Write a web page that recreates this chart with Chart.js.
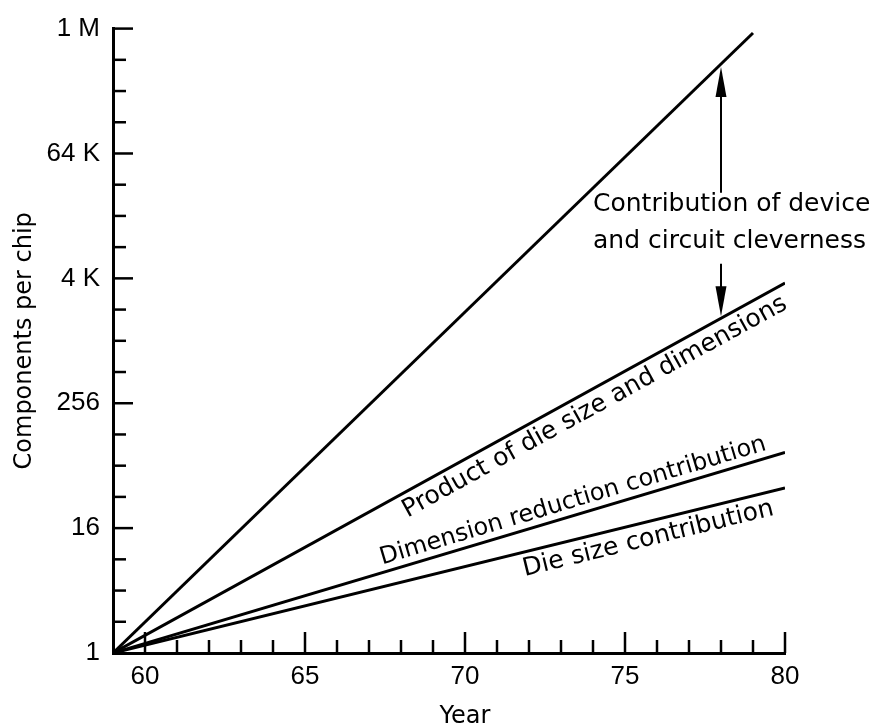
<!DOCTYPE html>
<html>
<head>
<meta charset="utf-8">
<script src="https://cdn.jsdelivr.net/npm/chart.js@4.4.0/dist/chart.umd.min.js"></script>
<style>
    html, body { margin: 0; padding: 0; background: #fff; }
</style>
</head>
<body>
<canvas id="moore_chart" width="874" height="727"></canvas>
<script>
// values (year, components per chip)
var totalYears = [59, 79];
var totalValues = [1, 950000];
var productYears = [59, 80];
var productValues = [1, 3700];
var dimensionYears = [59, 80];
var dimensionValues = [1, 86];
var dieYears = [59, 80];
var dieValues = [1, 39];

var yTickValues = [1, 16, 256, 4096, 65536, 1048576];
var yTickLabels = ['1', '16', '256', '4 K', '64 K', '1 M'];
var xTickLabels = [60, 65, 70, 75, 80];

var FONT = '"DejaVu Sans", sans-serif';
var TICKFONT = '"Liberation Sans", Arial, sans-serif';
var INK = '#000';

function toPoints(xs, ys) {
    return xs.map(function (x, i) { return { x: x, y: ys[i] }; });
}

function lineSet(xs, ys) {
    return {
        data: toPoints(xs, ys),
        borderColor: INK,
        borderWidth: 3,
        pointRadius: 0,
        tension: 0,
        fill: false
    };
}

// text along the lines: dataset index, year at text centre, offset from line (+ below)
var lineLabels = [
    { dataset: 1, text: 'Product of die size and dimensions', year: 73.8, off: 17, size: 25 },
    { dataset: 2, text: 'Dimension reduction contribution', year: 73.5, off: -14, size: 24 },
    { dataset: 3, text: 'Die size contribution', year: 75.6, off: 17, size: 25 }
];

function yOnLine(meta, px) {
    var a = meta.data[0], b = meta.data[meta.data.length - 1];
    return a.y + (b.y - a.y) * (px - a.x) / (b.x - a.x);
}

function arrowHead(ctx, x, tipY, dir) {
    // dir = -1 points up, +1 points down
    ctx.beginPath();
    ctx.moveTo(x, tipY);
    ctx.lineTo(x - 5.5, tipY - dir * 30);
    ctx.lineTo(x + 5.5, tipY - dir * 30);
    ctx.closePath();
    ctx.fill();
}

var paperPlugin = {
    id: 'paper',
    afterDatasetsDraw: function (chart) {
        var ctx = chart.ctx;
        var xs = chart.scales.x, ys = chart.scales.y;
        var yb = ys.getPixelForValue(1);
        var xl = xs.getPixelForValue(59);

        ctx.save();
        ctx.strokeStyle = INK;
        ctx.fillStyle = INK;

        // ticks point into the plot, as in the original
        ctx.lineWidth = 2.5;
        xs.ticks.forEach(function (t) {
            if (t.value === 59) return;
            var px = xs.getPixelForValue(t.value);
            var len = t.value % 5 === 0 ? 21 : 13;
            ctx.beginPath();
            ctx.moveTo(px, yb);
            ctx.lineTo(px, yb - len);
            ctx.stroke();
        });
        ys.ticks.forEach(function (t) {
            if (t.value === 1) return;
            var py = ys.getPixelForValue(t.value);
            var len = yTickValues.indexOf(t.value) >= 0 ? 20 : 13;
            ctx.beginPath();
            ctx.moveTo(xl, py);
            ctx.lineTo(xl + len, py);
            ctx.stroke();
        });

        // labels running along the lines
        ctx.textAlign = 'center';
        ctx.textBaseline = 'middle';
        lineLabels.forEach(function (l) {
            var meta = chart.getDatasetMeta(l.dataset);
            var a = meta.data[0], b = meta.data[meta.data.length - 1];
            var ang = Math.atan2(b.y - a.y, b.x - a.x);
            var px = xs.getPixelForValue(l.year);
            var py = yOnLine(meta, px);
            ctx.save();
            ctx.font = l.size + 'px ' + FONT;
            ctx.translate(px, py);
            ctx.rotate(ang);
            ctx.fillText(l.text, 0, l.off);
            ctx.restore();
        });

        // device and circuit cleverness arrows at 1978
        var ax = xs.getPixelForValue(78);
        var topY = yOnLine(chart.getDatasetMeta(0), ax) + 3;
        var botY = yOnLine(chart.getDatasetMeta(1), ax) - 2;
        var t1 = ys.getPixelForValue(21000);
        var t2 = t1 + 37;
        ctx.lineWidth = 2;
        ctx.beginPath();
        ctx.moveTo(ax, topY + 20);
        ctx.lineTo(ax, t1 - 12);
        ctx.moveTo(ax, t2 + 22);
        ctx.lineTo(ax, botY - 20);
        ctx.stroke();
        arrowHead(ctx, ax, topY, -1);
        arrowHead(ctx, ax, botY, 1);

        ctx.font = '25px ' + FONT;
        ctx.textAlign = 'left';
        var tx = xs.getPixelForValue(74);
        ctx.fillText('Contribution of device', tx, t1);
        ctx.fillText('and circuit cleverness', tx, t2);

        // x axis title
        ctx.font = '24px ' + FONT;
        ctx.textAlign = 'center';
        ctx.fillText('Year', xs.getPixelForValue(70), 717);
        ctx.restore();
    }
};

new Chart(document.getElementById('moore_chart').getContext('2d'), {
    type: 'line',
    data: {
        datasets: [
            lineSet(totalYears, totalValues),
            lineSet(productYears, productValues),
            lineSet(dimensionYears, dimensionValues),
            lineSet(dieYears, dieValues)
        ]
    },
    options: {
        responsive: false,
        animation: false,
        layout: { padding: { top: 24, right: 89, left: 0, bottom: 0 } },
        plugins: {
            legend: { display: false },
            tooltip: { enabled: false }
        },
        scales: {
            x: {
                type: 'linear',
                min: 59,
                max: 80,
                afterFit: function (s) { s.height = 74; },
                grid: { display: false, drawTicks: false },
                border: { display: true, color: INK, width: 3 },
                ticks: {
                    stepSize: 1,
                    autoSkip: false,
                    maxRotation: 0,
                    padding: 8,
                    color: INK,
                    font: { family: TICKFONT, size: 26 },
                    callback: function (v) { return xTickLabels.indexOf(v) >= 0 ? String(v) : ''; }
                }
            },
            y: {
                type: 'logarithmic',
                min: 1,
                max: 1048576,
                afterFit: function (s) { s.width = 113; },
                afterBuildTicks: function (s) {
                    var t = [];
                    for (var p = 0; p <= 20; p++) t.push({ value: Math.pow(2, p) });
                    s.ticks = t;
                },
                grid: { display: false, drawTicks: false },
                border: { display: true, color: INK, width: 3 },
                title: {
                    display: true,
                    text: 'Components per chip',
                    color: INK,
                    font: { family: FONT, size: 24 },
                    padding: { top: 10, bottom: 0 }
                },
                ticks: {
                    autoSkip: false,
                    padding: 13,
                    color: INK,
                    font: { family: TICKFONT, size: 26 },
                    callback: function (v) {
                        var i = yTickValues.indexOf(v);
                        return i >= 0 ? yTickLabels[i] : '';
                    }
                }
            }
        }
    },
    plugins: [paperPlugin]
});
</script>
</body>
</html>
